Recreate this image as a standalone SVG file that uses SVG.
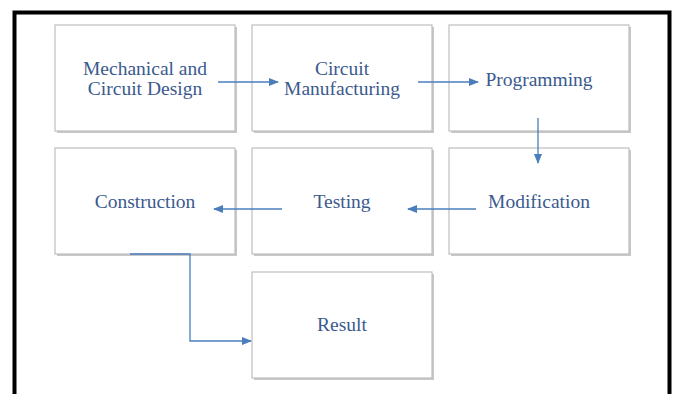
<svg xmlns="http://www.w3.org/2000/svg" width="676" height="394" viewBox="0 0 676 394">
<defs>
<style>
.box{fill:#fff;stroke:#bfbfbf;stroke-width:1.2}
.sh{fill:#c8c8c8}
.t{font-family:"Liberation Serif","Times New Roman",serif;font-size:19.5px;fill:#3a5a8e;text-anchor:middle}
.c{fill:none;stroke:#4a7ebb;stroke-width:1.3}
</style>
<marker id="ah" markerWidth="10" markerHeight="8" refX="9" refY="4" orient="auto" markerUnits="userSpaceOnUse">
<path d="M0,0 L10,4 L0,8 Z" fill="#4a7ebb"/>
</marker>
</defs>
<rect width="676" height="394" fill="#fff"/>
<rect x="14.5" y="12.5" width="655" height="400" fill="none" stroke="#000" stroke-width="4"/>
<g id="n1"><rect class="sh" x="57" y="27" width="180" height="106"/><rect class="box" x="55" y="25" width="180" height="106"/><text class="t" x="145" y="75">Mechanical and</text><text class="t" x="145" y="95">Circuit Design</text></g>
<g id="n2"><rect class="sh" x="254" y="27" width="180" height="106"/><rect class="box" x="252" y="25" width="180" height="106"/><text class="t" x="342" y="75">Circuit</text><text class="t" x="342" y="95">Manufacturing</text></g>
<g id="n3"><rect class="sh" x="451" y="27" width="180" height="106"/><rect class="box" x="449" y="25" width="180" height="106"/><text class="t" x="539" y="86">Programming</text></g>
<g id="n4"><rect class="sh" x="57" y="150" width="180" height="106"/><rect class="box" x="55" y="148" width="180" height="106"/><text class="t" x="145" y="208">Construction</text></g>
<g id="n5"><rect class="sh" x="254" y="150" width="180" height="106"/><rect class="box" x="252" y="148" width="180" height="106"/><text class="t" x="342" y="208">Testing</text></g>
<g id="n6"><rect class="sh" x="451" y="150" width="180" height="106"/><rect class="box" x="449" y="148" width="180" height="106"/><text class="t" x="539" y="208">Modification</text></g>
<g id="n7"><rect class="sh" x="254" y="274" width="180" height="106"/><rect class="box" x="252" y="272" width="180" height="106"/><text class="t" x="342" y="331">Result</text></g>
<g id="connectors">
<path class="c" d="M218,82 H278" marker-end="url(#ah)"/>
<path class="c" d="M418,82 H478" marker-end="url(#ah)"/>
<path class="c" d="M538,118 V163" marker-end="url(#ah)"/>
<path class="c" d="M476,209 H408" marker-end="url(#ah)"/>
<path class="c" d="M282,209 H214" marker-end="url(#ah)"/>
<path class="c" d="M130,254 H190 V341 H251" marker-end="url(#ah)"/>
</g>
</svg>
